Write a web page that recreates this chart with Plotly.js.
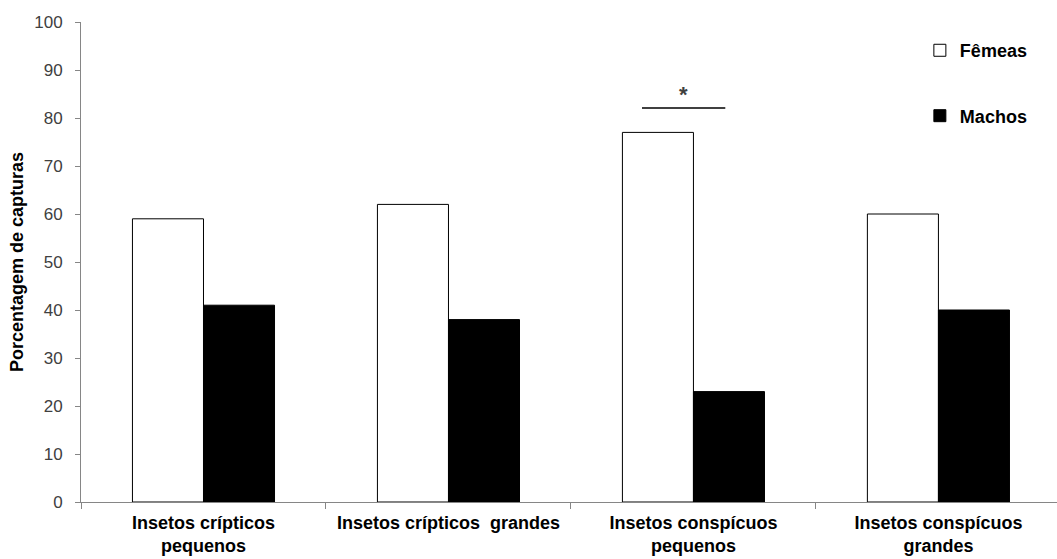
<!DOCTYPE html>
<html>
<head>
<meta charset="utf-8">
<script src="https://cdn.plot.ly/plotly-3.0.1.min.js"></script>
<style>html,body{margin:0;padding:0;background:#fff;}</style>
</head>
<body>
<div id="chart" style="width:1057px;height:559px;"></div>
<script>
const categories = ["Insetos crípticos<br>pequenos", "Insetos crípticos  grandes", "Insetos conspícuos<br>pequenos", "Insetos conspícuos<br>grandes"];
const femeas = [59, 62, 77, 60];
const machos = [41, 38, 23, 40];
const yTicks = [0, 10, 20, 30, 40, 50, 60, 70, 80, 90, 100];

const font = "Liberation Sans, Arial, sans-serif";

const traces = [
  {type: "bar", name: "Fêmeas", x: categories, y: femeas, legendgroup: "f",
   marker: {color: "#ffffff", line: {color: "#000000", width: 1}}},
  {type: "bar", name: "Machos", x: categories, y: machos, legendgroup: "m",
   marker: {color: "#000000", line: {color: "#000000", width: 1}}}
];

const layout = {
  width: 1057, height: 559,
  margin: {l: 81, r: 0, t: 22, b: 57},
  paper_bgcolor: "#fff", plot_bgcolor: "#fff",
  barmode: "group", bargap: 0.42, bargroupgap: 0,
  font: {family: font, size: 17, color: "#404040"},
  xaxis: {
    type: "category", range: [-0.5, 3.484],
    showline: true, linecolor: "#868686", linewidth: 1,
    ticks: "outside", tickson: "boundaries", ticklen: 6, tickcolor: "#868686",
    tickfont: {family: font, size: 18, color: "#000", weight: "bold"},
    ticklabelstandoff: 4,
    showgrid: false, zeroline: false
  },
  yaxis: {
    range: [0, 100], tickvals: yTicks,
    showline: true, linecolor: "#868686", linewidth: 1,
    ticks: "outside", ticklen: 5, tickcolor: "#868686",
    tickfont: {family: font, size: 17, color: "#404040"},
    ticklabelstandoff: 9,
    showgrid: false, zeroline: false,
    title: {text: "Porcentagem de capturas", font: {family: font, size: 18, color: "#000", weight: "bold"}, standoff: 5}
  },
  showlegend: true,
  legend: {
    x: 0.8595, y: 0.979, xanchor: "left", yanchor: "top",
    font: {family: font, size: 18, color: "#000", weight: "bold"},
    tracegroupgap: 39, bgcolor: "rgba(0,0,0,0)"
  },
  shapes: [
    {type: "line", xref: "x", yref: "y", x0: 1.79, x1: 2.13, y0: 82.1, y1: 82.1,
     line: {color: "#404040", width: 2}}
  ],
  annotations: [
    {x: 1.96, y: 85.0, xref: "x", yref: "y", text: "*", showarrow: false,
     font: {family: font, size: 22, color: "#404040", weight: "bold"}}
  ]
};

Plotly.newPlot("chart", traces, layout, {displayModeBar: false, staticPlot: true});
</script>
</body>
</html>
